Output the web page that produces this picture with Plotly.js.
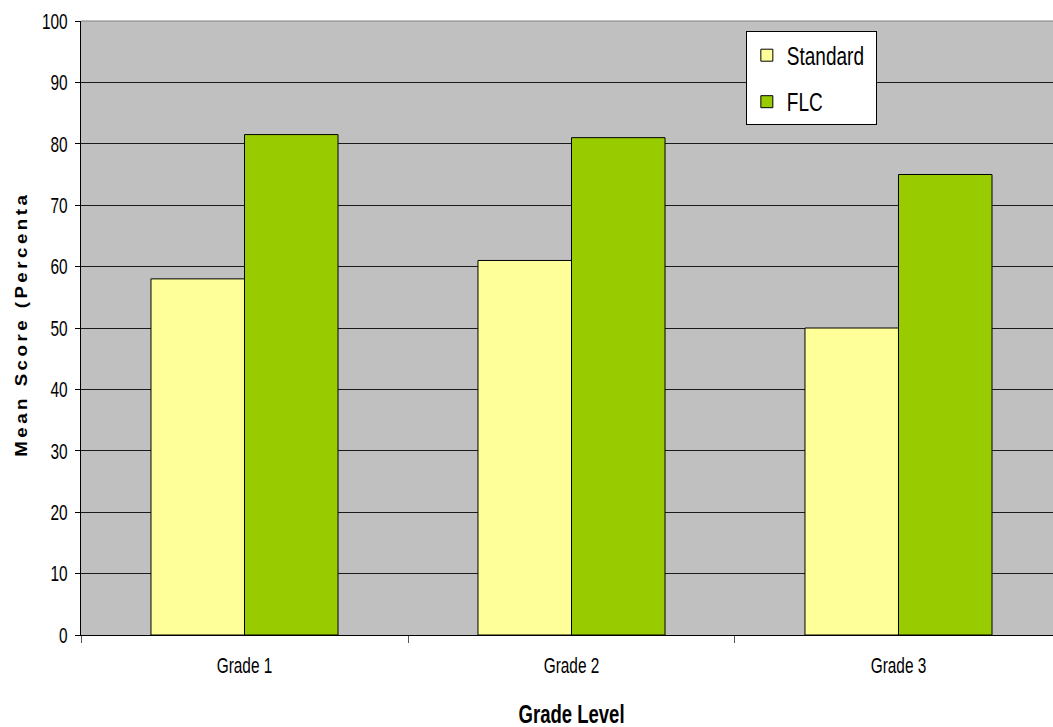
<!DOCTYPE html>
<html>
<head>
<meta charset="utf-8">
<script src="https://cdn.plot.ly/plotly-3.0.1.min.js"></script>
<style>
  html, body { margin: 0; padding: 0; background: #fff; }
  #chart { width: 1053px; height: 727px; }
</style>
</head>
<body>
<div id="chart"></div>
<script>
// Mean scores by grade level for the two programmes
const grades = ['Grade 1', 'Grade 2', 'Grade 3'];
const standardScores = [58, 61, 50];
const flcScores = [81.5, 81, 75];

const sans = 'Arial, "Liberation Sans", sans-serif';

const traces = [
  {
    type: 'bar', name: 'Standard', x: grades, y: standardScores,
    legendgroup: 'a',
    marker: { color: '#FFFF99', line: { color: '#000', width: 1 } },
    hoverinfo: 'x+y+name'
  },
  {
    type: 'bar', name: 'FLC', x: grades, y: flcScores,
    legendgroup: 'b',
    marker: { color: '#99CC00', line: { color: '#000', width: 1 } },
    hoverinfo: 'x+y+name'
  }
];

const layout = {
  width: 1053, height: 727,
  margin: { l: 81, r: 0, t: 20.5, b: 92 },
  paper_bgcolor: '#ffffff',
  plot_bgcolor: '#C0C0C0',
  barmode: 'group',
  bargap: 0.428,
  bargroupgap: 0,
  showlegend: true,
  legend: {
    x: 0.684, y: 0.983, xanchor: 'left', yanchor: 'top',
    bgcolor: '#ffffff', bordercolor: '#000', borderwidth: 1,
    font: { family: sans, size: 25, color: '#000' },
    traceorder: 'grouped', tracegroupgap: 11
  },
  xaxis: {
    type: 'category',
    range: [-0.5, 2.4725],
    showgrid: false,
    showline: true, linecolor: '#000', linewidth: 1,
    ticks: 'outside', tickson: 'boundaries', ticklen: 7, tickcolor: '#555',
    ticklabelstandoff: 11,
    tickfont: { family: sans, size: 22, color: '#000' },
    zeroline: false, fixedrange: true
  },
  yaxis: {
    range: [0, 100],
    dtick: 10,
    showgrid: true, gridcolor: '#1a1a1a', gridwidth: 1,
    showline: true, linecolor: '#000', linewidth: 1,
    ticks: 'outside', ticklen: 5, tickcolor: '#000',
    ticklabelstandoff: 3,
    tickfont: { family: sans, size: 22, color: '#000' },
    zeroline: false, fixedrange: true
  },
  shapes: [
    { type: 'line', xref: 'paper', yref: 'paper', x0: 0, x1: 1, y0: 1, y1: 1,
      line: { color: '#808080', width: 1 } }
  ],
  annotations: [
    {
      text: 'Mean Score (Percenta', xref: 'paper', yref: 'paper',
      x: -0.0612, y: 0.506, xanchor: 'center', yanchor: 'middle',
      textangle: -90, showarrow: false,
      font: { family: sans, size: 16, weight: 'bold', color: '#000' }
    },
    {
      text: 'Grade Level', xref: 'paper', yref: 'paper',
      x: 0.505, y: -0.1286, xanchor: 'center', yanchor: 'middle',
      showarrow: false,
      font: { family: sans, size: 25, weight: 'bold', color: '#000' }
    }
  ]
};

// Rescale text along its reading direction (condensed labels, stretched caption)
function rescale(el, factor) {
  const w = el.getComputedTextLength();
  el.setAttribute('textLength', (w * factor).toFixed(2));
  el.setAttribute('lengthAdjust', 'spacingAndGlyphs');
}

Plotly.newPlot('chart', traces, layout, { displayModeBar: false, staticPlot: true }).then(function (gd) {
  gd.querySelectorAll('.ytick text, .xtick text').forEach(function (t) { rescale(t, 0.7); });
  gd.querySelectorAll('.legendtext').forEach(function (t) { rescale(t, 0.76); });
  gd.querySelectorAll('.annotation-text').forEach(function (t) {
    if (t.textContent.indexOf('Mean Score') === 0) {
      t.style.letterSpacing = '3px';
      t.setAttribute('textLength', '265');
      t.setAttribute('lengthAdjust', 'spacingAndGlyphs');
    } else {
      rescale(t, 0.74);
    }
  });
  const bg = gd.querySelector('.legend rect.bg');
  if (bg) { bg.setAttribute('width', '130'); }
});
</script>
</body>
</html>
